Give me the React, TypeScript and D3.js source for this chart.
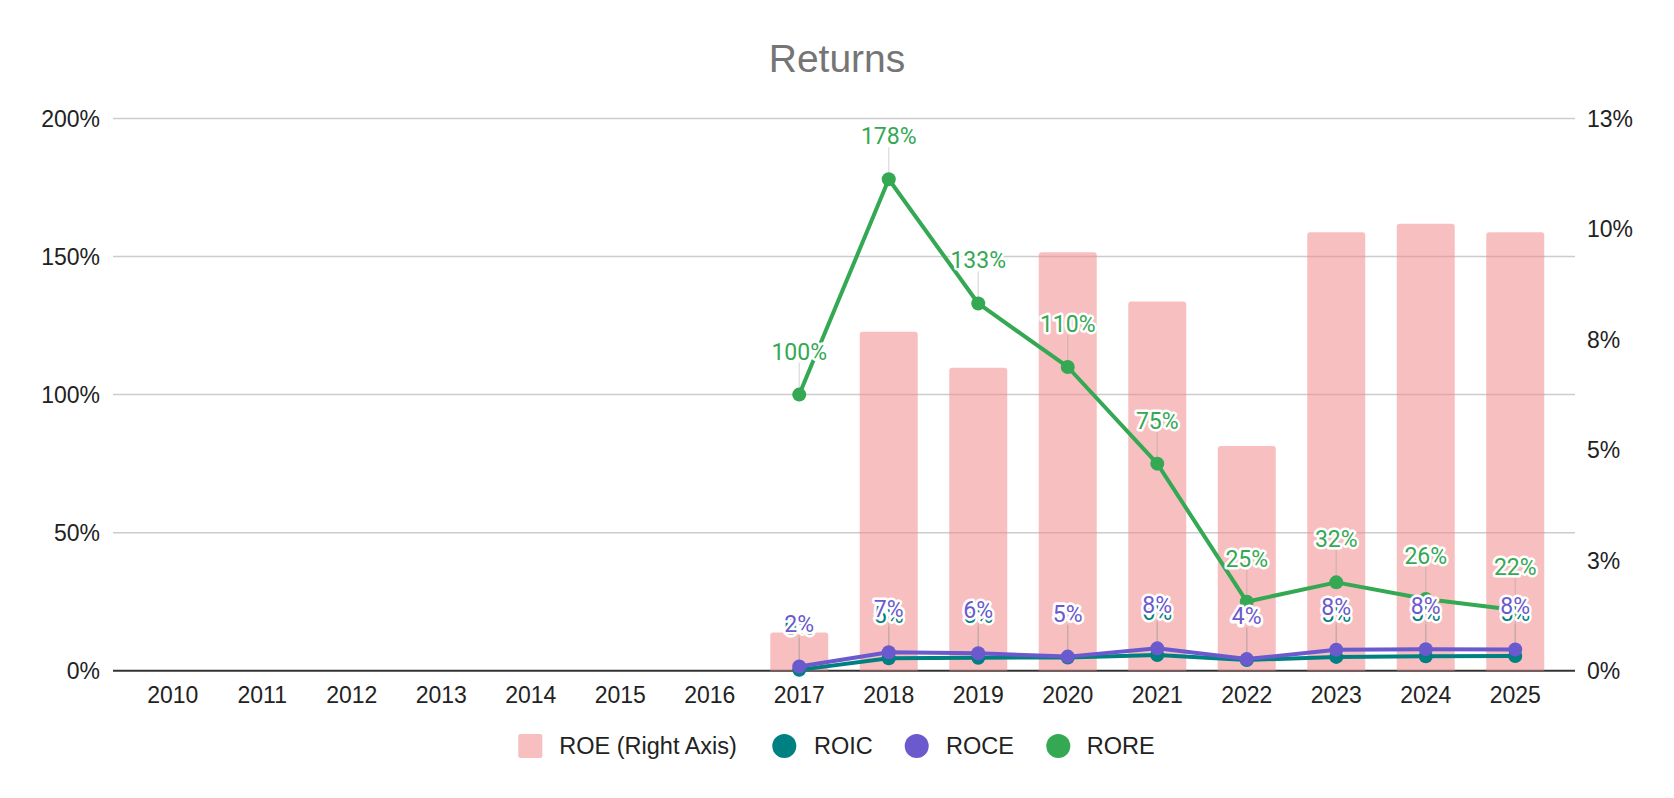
import React from 'react'
import * as d3 from 'd3'

// chart data (percent values)
const years = ['2010', '2011', '2012', '2013', '2014', '2015', '2016', '2017', '2018', '2019', '2020', '2021', '2022', '2023', '2024', '2025']
const roe: Array<number | null> = [null, null, null, null, null, null, null, 0.9, 7.98, 7.13, 9.85, 8.69, 5.29, 10.32, 10.52, 10.32]
const roic: Array<number | null> = [null, null, null, null, null, null, null, 0.3, 4.5, 4.7, 4.8, 5.7, 3.9, 5.0, 5.2, 5.3]
const roce: Array<number | null> = [null, null, null, null, null, null, null, 1.5, 6.7, 6.3, 5.1, 8.1, 4.2, 7.6, 7.8, 7.7]
const rore: Array<number | null> = [null, null, null, null, null, null, null, 100, 178, 133, 110, 75, 25, 32, 26, 22]
const leftTicks = [0, 50, 100, 150, 200]
const rightTicks = [0, 2.6, 5.2, 7.8, 10.4, 13]

const W = 1674
const H = 798
const plot = { left: 113, right: 1575, top: 118.5, bottom: 670.7 }

const axisFont = '"Liberation Sans", Arial, sans-serif'
const labelFont = 'Roboto, "Noto Sans", sans-serif'
const barColor = '#f28b8c'
const barOpacity = 0.55
const series = [
  { name: 'ROIC', values: roic, color: '#008080' },
  { name: 'ROCE', values: roce, color: '#6a5acd' },
  { name: 'RORE', values: rore, color: '#34a853' }
]

export default function App() {
  const x = d3.scaleBand<string>()
    .domain(years)
    .range([plot.left + 15, plot.right - 15])
    .paddingInner(0.352)
    .paddingOuter(0.176)
  const cx = (y: string) => (x(y) || 0) + x.bandwidth() / 2
  const yL = d3.scaleLinear().domain([0, 200]).range([plot.bottom, plot.top])
  const yR = d3.scaleLinear().domain([0, 13]).range([plot.bottom, plot.top])
  const pct = d3.format('.0%')

  const line = d3.line<number | null>()
    .defined(d => d != null)
    .x((_, i) => cx(years[i]))
    .y(d => yL(d as number))

  // bar path with rounded top corners
  const barPath = (x0: number, y0: number, w: number, h: number, r: number) => {
    const rr = Math.min(r, h / 2)
    const p = d3.path()
    p.moveTo(x0, y0 + h)
    p.lineTo(x0, y0 + rr)
    p.quadraticCurveTo(x0, y0, x0 + rr, y0)
    p.lineTo(x0 + w - rr, y0)
    p.quadraticCurveTo(x0 + w, y0, x0 + w, y0 + rr)
    p.lineTo(x0 + w, y0 + h)
    p.closePath()
    return p.toString()
  }

  return (
    <div style={{ position: 'absolute', left: 0, top: 0 }}>
      <svg width={W} height={H} style={{ display: 'block', background: '#fff' }}>
        <text x={W / 2} y={71.7} textAnchor="middle" fontFamily={axisFont} fontSize={39} fill="#757575">Returns</text>

        {/* gridlines */}
        {leftTicks.filter(t => t > 0).map(t => (
          <line key={t} x1={plot.left} x2={plot.right} y1={yL(t)} y2={yL(t)} stroke="#cccccc" strokeWidth={1.5} />
        ))}
        <line x1={plot.left} x2={plot.right} y1={plot.bottom} y2={plot.bottom} stroke="#333333" strokeWidth={2} />

        {/* left axis */}
        {leftTicks.map(t => (
          <text key={t} x={100} y={yL(t)} dy="0.36em" textAnchor="end" fontFamily={axisFont} fontSize={23} fill="#222">{pct(t / 100)}</text>
        ))}
        {/* right axis */}
        {rightTicks.map(t => (
          <text key={t} x={1587} y={yR(t)} dy="0.36em" textAnchor="start" fontFamily={axisFont} fontSize={23} fill="#222">{pct(t / 100)}</text>
        ))}
        {/* x axis */}
        {years.map(y => (
          <text key={y} x={cx(y)} y={702.7} textAnchor="middle" fontFamily={axisFont} fontSize={23} fill="#222">{y}</text>
        ))}

        {/* ROE bars on right axis */}
        {roe.map((v, i) => v == null ? null : (
          <path key={i} d={barPath(x(years[i]) || 0, yR(v), x.bandwidth(), plot.bottom - yR(v), 3)} fill={barColor} fillOpacity={barOpacity} />
        ))}

        {/* leader lines */}
        {series.map(s => s.values.map((v, i) => v == null ? null : (
          <line key={s.name + i} x1={cx(years[i])} x2={cx(years[i])} y1={yL(v) - 32} y2={yL(v)} stroke="#999" strokeOpacity={0.3} strokeWidth={1.5} />
        )))}

        {/* lines and points */}
        {series.map(s => (
          <g key={s.name}>
            <path d={line(s.values) || ''} fill="none" stroke={s.color} strokeWidth={4} strokeLinejoin="round" />
            {s.values.map((v, i) => v == null ? null : (
              <circle key={i} cx={cx(years[i])} cy={yL(v)} r={7} fill={s.color} />
            ))}
          </g>
        ))}

        {/* data labels */}
        {series.map(s => (
          <g key={s.name + 'lbl'}>
            {s.values.map((v, i) => v == null ? null : (
              <text key={i} x={cx(years[i])} y={yL(v) - 35} textAnchor="middle" fontFamily={labelFont} fontSize={23}
                fill={s.color} stroke="#fff" strokeWidth={5} strokeLinejoin="round" style={{ paintOrder: 'stroke' }}>
                {pct(v / 100)}
              </text>
            ))}
          </g>
        ))}

        {/* legend */}
        <g fontFamily={axisFont} fontSize={23.5} fill="#222">
          <rect x={518.3} y={734} width={24} height={24} rx={2} fill={barColor} fillOpacity={barOpacity} />
          <text x={559.3} y={746} dy="0.36em">ROE (Right Axis)</text>
          <circle cx={784.3} cy={746} r={12} fill={series[0].color} />
          <text x={814} y={746} dy="0.36em">ROIC</text>
          <circle cx={916.7} cy={746} r={12} fill={series[1].color} />
          <text x={946} y={746} dy="0.36em">ROCE</text>
          <circle cx={1058.3} cy={746} r={12} fill={series[2].color} />
          <text x={1086.7} y={746} dy="0.36em">RORE</text>
        </g>
      </svg>
    </div>
  )
}
